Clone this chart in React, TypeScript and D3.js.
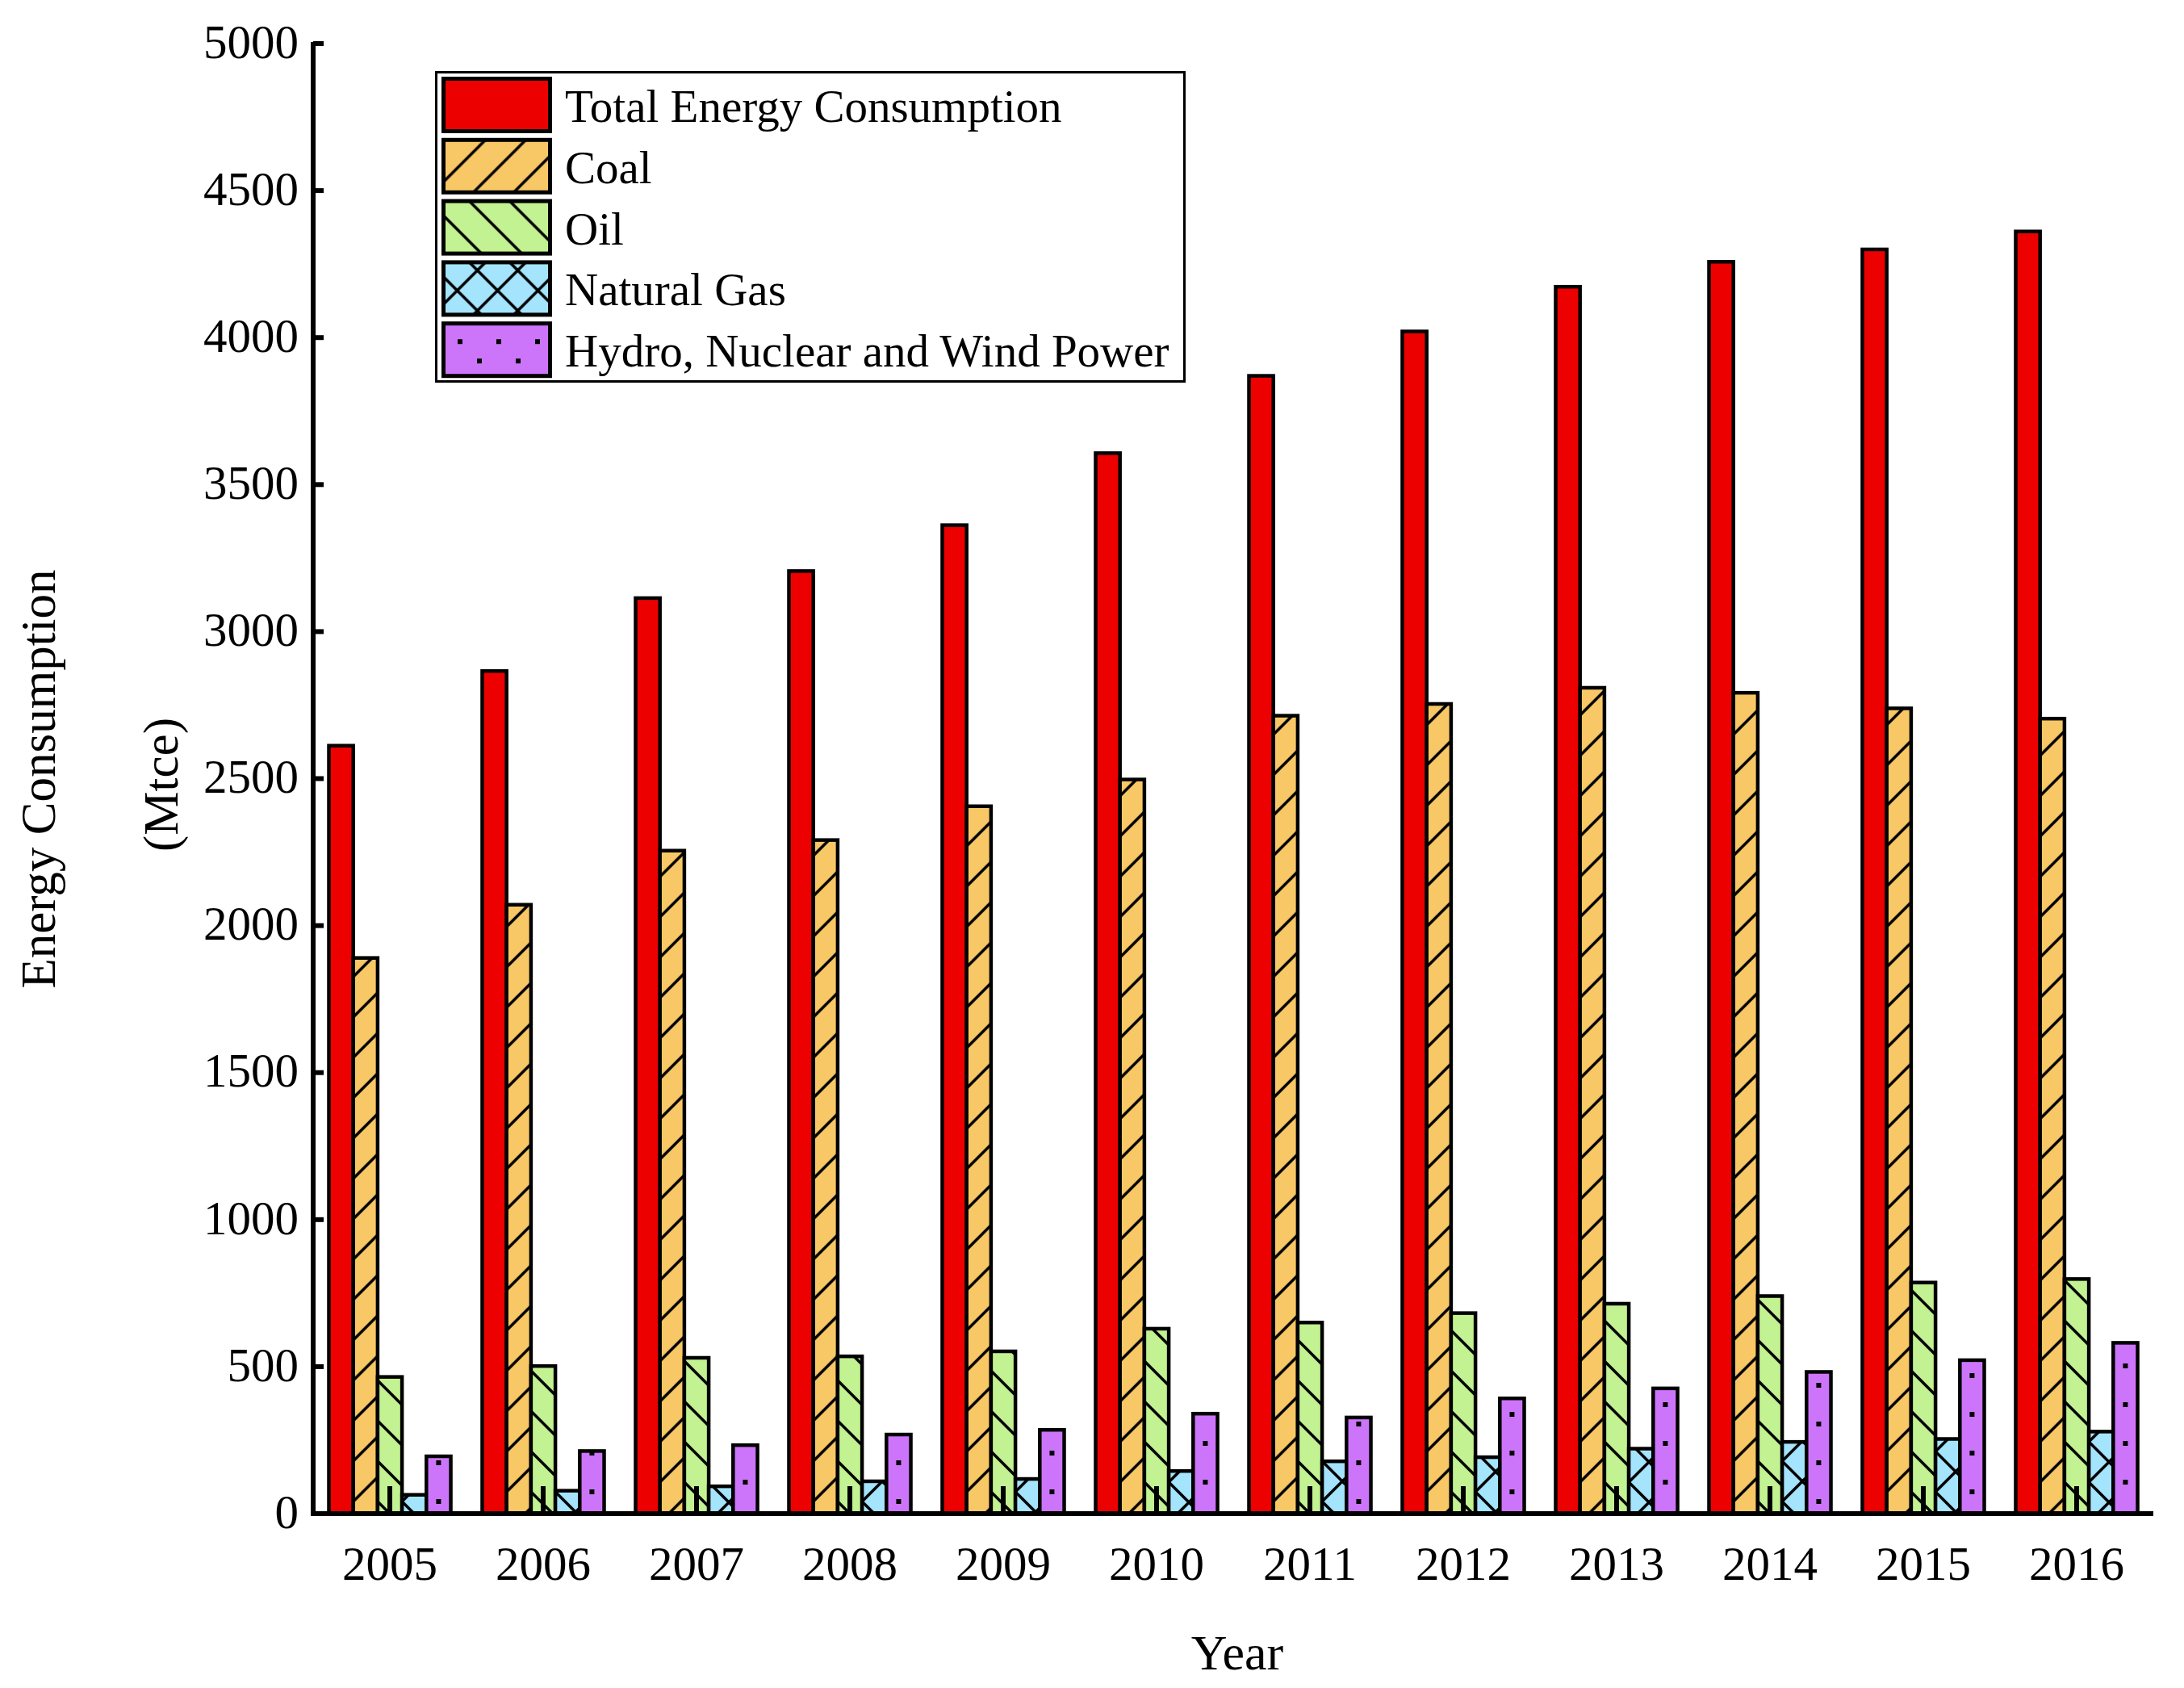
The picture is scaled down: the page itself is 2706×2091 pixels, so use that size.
import React, { useEffect } from "react";
import * as d3 from "d3";

// values (Mtce)
const years = ["2005", "2006", "2007", "2008", "2009", "2010", "2011", "2012", "2013", "2014", "2015", "2016"];
const totalEnergy = [2612, 2866, 3114, 3206, 3362, 3607, 3870, 4021, 4173, 4258, 4300, 4361];
const coal = [1890, 2071, 2255, 2291, 2406, 2497, 2714, 2754, 2809, 2792, 2739, 2704];
const oil = [465, 502, 530, 535, 552, 629, 650, 682, 714, 740, 786, 798];
const naturalGas = [64, 78, 93, 110, 118, 145, 178, 192, 221, 244, 254, 279];
const hydroNuclearWind = [195, 213, 233, 269, 285, 340, 327, 392, 426, 482, 522, 581];

const seriesNames = [
  "Total Energy Consumption",
  "Coal",
  "Oil",
  "Natural Gas",
  "Hydro, Nuclear and Wind Power",
];
const seriesValues = [totalEnergy, coal, oil, naturalGas, hydroNuclearWind];
const seriesColors = ["#ec0000", "#f9c866", "#c2f291", "#a4e4fc", "#cd75fa"];
const seriesHatch = ["none", "fwd", "back", "cross", "dots"];
const yTicks = d3.range(0, 5001, 500);

const W = 2706;
const H = 2091;
const FONT = "'Liberation Serif', 'Times New Roman', serif";
const P = 50; // hatch period
const D = 48; // dot period

// hatch pattern, anchored at (ox, oy)
function hatchPattern(id: string, kind: string, color: string, ox: number, oy: number) {
  if (kind === "dots") {
    return (
      <pattern key={id} id={id} patternUnits="userSpaceOnUse" width={D} height={D}
        patternTransform={`translate(${ox},${oy})`}>
        <rect width={D} height={D} fill={color} />
        <rect x={-3} y={-3} width={6} height={6} fill="#000" />
        <rect x={D - 3} y={-3} width={6} height={6} fill="#000" />
        <rect x={-3} y={D - 3} width={6} height={6} fill="#000" />
        <rect x={D - 3} y={D - 3} width={6} height={6} fill="#000" />
        <rect x={D / 2 - 3} y={D / 2 - 3} width={6} height={6} fill="#000" />
      </pattern>
    );
  }
  const fwd = `M0,${P} L${P},0 M${-P / 2},${P / 2} L${P / 2},${-P / 2} M${P / 2},${1.5 * P} L${1.5 * P},${P / 2}`;
  const back = `M0,0 L${P},${P} M${-P / 2},${P / 2} L${P / 2},${1.5 * P} M${P / 2},${-P / 2} L${1.5 * P},${P / 2}`;
  const d = kind === "fwd" ? fwd : kind === "back" ? back : fwd + " " + back;
  return (
    <pattern key={id} id={id} patternUnits="userSpaceOnUse" width={P} height={P}
      patternTransform={`translate(${ox},${oy})`}>
      <rect width={P} height={P} fill={color} />
      <path d={d} stroke="#000" strokeWidth={3.5} fill="none" />
    </pattern>
  );
}

const App = () => {
  useEffect(() => {
    document.body.style.margin = "0";
  }, []);

  const axisLeft = 388;
  const axisRight = 2668;
  const base = 1875;

  const x0 = d3.scaleBand<string>().domain(years).range([axisLeft, axisRight]).paddingInner(0.205).paddingOuter(0.1025);
  const x1 = d3.scaleBand<number>().domain(d3.range(seriesNames.length)).range([0, x0.bandwidth()]);
  const y = d3.scaleLinear().domain([0, 5000]).range([base, 54]);

  const bw = x1.bandwidth();
  const defs: any[] = [];
  const bars: any[] = [];

  years.forEach((yr, gi) => {
    seriesValues.forEach((vals, si) => {
      const bx = (x0(yr) as number) + (x1(si) as number);
      const by = y(vals[gi]);
      let fill = seriesColors[si];
      if (seriesHatch[si] !== "none") {
        const id = `h-${si}-${gi}`;
        const ox = seriesHatch[si] === "dots" ? bx + bw / 2 : bx;
        defs.push(hatchPattern(id, seriesHatch[si], seriesColors[si], ox, base - 15 - (gi % 3) * 12));
        fill = `url(#${id})`;
      }
      bars.push(
        <rect key={`b-${si}-${gi}`} x={bx} y={by} width={bw} height={base - by}
          fill={fill} stroke="#000" strokeWidth={4.5} />
      );
    });
  });

  // legend
  const lgX = 549.5;
  const lgY = 97.5;
  const lgPitch = 75.8;
  const legend = seriesNames.map((name, i) => {
    const sy = lgY + i * lgPitch;
    let fill = seriesColors[i];
    if (seriesHatch[i] !== "none") {
      const id = `lg-${i}`;
      const ox = seriesHatch[i] === "dots" ? lgX + 20.5 : lgX - 8;
      const oy = seriesHatch[i] === "dots" ? sy + 22.5 : sy + 10;
      defs.push(hatchPattern(id, seriesHatch[i], seriesColors[i], ox, oy));
      fill = `url(#${id})`;
    }
    return (
      <g key={name}>
        <rect x={lgX} y={sy} width={132} height={65} fill={fill} stroke="#000" strokeWidth={5} />
        <text x={700} y={sy + 32.5 + 21} fontSize={57}>{name}</text>
      </g>
    );
  });

  return (
    <svg width={W} height={H} viewBox={`0 0 ${W} ${H}`} style={{ display: "block", background: "#fff" }}
      fontFamily={FONT}>
      <defs>{defs}</defs>
      <rect width={W} height={H} fill="#fff" />

      {bars}

      {/* axes */}
      <line x1={axisLeft} x2={axisLeft} y1={52} y2={base + 3} stroke="#000" strokeWidth={6} />
      <line x1={axisLeft - 3} x2={axisRight} y1={base} y2={base} stroke="#000" strokeWidth={6} />
      {yTicks.map((t) => (
        <g key={t}>
          <line x1={axisLeft} x2={axisLeft + 13} y1={y(t)} y2={y(t)} stroke="#000" strokeWidth={6} />
          <text x={370} y={y(t)} dy="0.3em" textAnchor="end" fontSize={59}>{t}</text>
        </g>
      ))}
      {years.map((yr) => {
        const cx = (x0(yr) as number) + x0.bandwidth() / 2;
        return (
          <g key={yr}>
            <line x1={cx} x2={cx} y1={base} y2={base - 34} stroke="#000" strokeWidth={6} />
            <text x={cx} y={1957} textAnchor="middle" fontSize={59}>{yr}</text>
          </g>
        );
      })}

      {/* titles */}
      <text x={1533} y={2068} textAnchor="middle" fontSize={62}>Year</text>
      <text transform="translate(68,965) rotate(-90)" textAnchor="middle" fontSize={61}>Energy Consumption</text>
      <text transform="translate(220,972) rotate(-90)" textAnchor="middle" fontSize={61}>(Mtce)</text>

      {/* legend */}
      <rect x={540.5} y={89.5} width={927} height={383} fill="#fff" stroke="#000" strokeWidth={3} />
      {legend}
    </svg>
  );
};

export default App;
